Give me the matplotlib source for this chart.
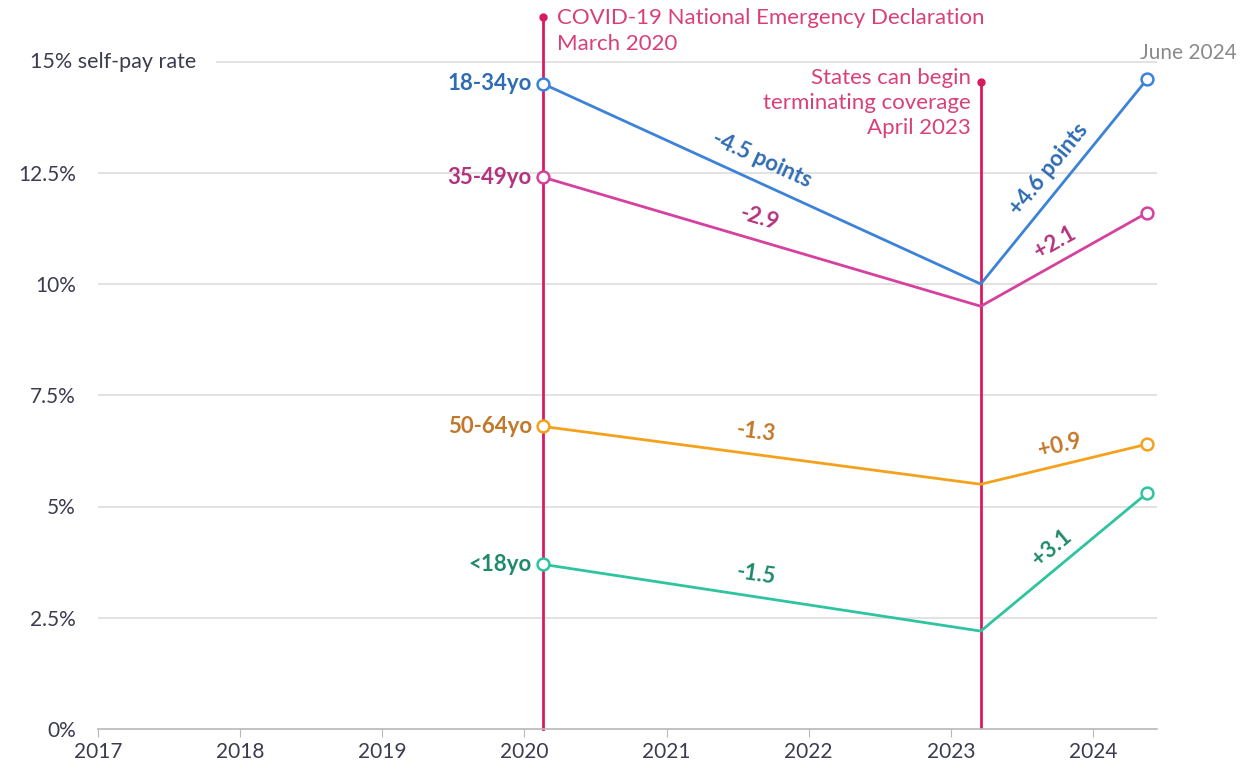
import numpy as np
import matplotlib.pyplot as plt

plt.rcParams['font.family'] = ['Lato', 'DejaVu Sans']

# -------------------------------
# Data (self-pay rate, %)
# -------------------------------
x_dates = [2020.13, 2023.21, 2024.38]   # Mar 2020, Apr 2023, Jun 2024
groups = ['18-34yo', '35-49yo', '50-64yo', '<18yo']
rate_18_34 = [14.5, 10.0, 14.6]
rate_35_49 = [12.4, 9.5, 11.6]
rate_50_64 = [6.8, 5.5, 6.4]
rate_u18 = [3.7, 2.2, 5.3]
drop_labels = ['-4.5 points', '-2.9', '-1.3', '-1.5']
rise_labels = ['+4.6 points', '+2.1', '+0.9', '+3.1']

years = list(range(2017, 2025))
y_ticks = [0, 2.5, 5, 7.5, 10, 12.5]
y_tick_labels = ['0%', '2.5%', '5%', '7.5%', '10%', '12.5%']

line_colors = ['#3b82d8', '#d6409f', '#f4a21c', '#2ec4a0']
text_colors = ['#2f6cb3', '#b3337e', '#c2782a', '#1e8a6c']
event_color = '#d81b60'
event_text = '#d8407a'
tick_color = '#3c3c50'
grid_color = '#dddddd'

series = [rate_18_34, rate_35_49, rate_50_64, rate_u18]

# -------------------------------
# Figure
# -------------------------------
fig = plt.figure(figsize=(12.48, 7.7), dpi=100)
ax = fig.add_axes([98 / 1248, 41 / 770, 1059 / 1248, 712 / 770])
ax.set_xlim(2017, 2024.45)
ax.set_ylim(0, 16)

for s in ['top', 'right', 'left']:
    ax.spines[s].set_visible(False)
ax.spines['bottom'].set_color('#b8b8b8')
ax.spines['bottom'].set_linewidth(1.2)

ax.set_xticks(years)
ax.set_xticklabels([str(y) for y in years], fontsize=15, color=tick_color)
ax.tick_params(axis='x', length=6, color='#b8b8b8', pad=3)
ax.set_yticks(y_ticks)
ax.set_yticklabels(y_tick_labels, fontsize=15, color=tick_color)
ax.tick_params(axis='y', length=0, pad=16)

# gridlines
for y in y_ticks[1:]:
    ax.axhline(y, color=grid_color, lw=1.2, zorder=0)
ax.axhline(15, xmin=119 / 1059, color=grid_color, lw=1.2, zorder=0)
ax.text(-68 / 1059, 15, '15% self-pay rate', transform=ax.get_yaxis_transform(),
        fontsize=15.5, color=tick_color, ha='left', va='center')

# event lines
ax.plot([x_dates[0], x_dates[0]], [0, 16], color=event_color, lw=2, zorder=2, clip_on=False)
ax.plot([x_dates[0]], [16], 'o', color=event_color, ms=5, zorder=3, clip_on=False)
ax.text(x_dates[0] + 0.1, 16.2, 'COVID-19 National Emergency Declaration\nMarch 2020',
        fontsize=16, color=event_text, ha='left', va='top', linespacing=1.4)

top2 = max(s[0] for s in series) + 0.05
ax.plot([x_dates[1], x_dates[1]], [0, top2], color=event_color, lw=2, zorder=2)
ax.plot([x_dates[1]], [top2], 'o', color=event_color, ms=5, zorder=3)
ax.text(x_dates[1] - 0.07, top2 + 0.3, 'States can begin\nterminating coverage\nApril 2023',
        fontsize=16, color=event_text, ha='right', va='top', linespacing=1.3)

ax.text(1.075, max(s[2] for s in series) + 0.6, 'June 2024', transform=ax.get_yaxis_transform(),
        fontsize=15, color='#8a8a8a', ha='right', va='center')

# series lines
for vals, lc, tc, name in zip(series, line_colors, text_colors, groups):
    ax.plot(x_dates, vals, color=lc, lw=2, zorder=4)
    ax.plot([x_dates[0], x_dates[2]], [vals[0], vals[2]], 'o', ms=8.5, mfc='white',
            mec=lc, mew=1.8, zorder=5, clip_on=False)
    ax.annotate(name, (x_dates[0], vals[0]), xytext=(-8, 0), textcoords='offset points',
                ha='right', va='center', fontsize=16, fontweight='bold', color=tc)


def seg_label(x0, y0, x1, y1, text, color, offset_px, frac=0.5):
    p0 = ax.transData.transform((x0, y0))
    p1 = ax.transData.transform((x1, y1))
    d = p1 - p0
    ang = np.degrees(np.arctan2(d[1], d[0]))
    n = np.array([-d[1], d[0]]) / np.hypot(*d)
    pos = p0 + d * frac + n * offset_px
    xm, ym = ax.transData.inverted().transform(pos)
    ax.text(xm, ym, text, rotation=ang, rotation_mode='anchor', ha='center', va='center',
            fontsize=16, fontweight='bold', color=color, zorder=6)


for vals, tc, dl, rl in zip(series, text_colors, drop_labels, rise_labels):
    seg_label(x_dates[0], vals[0], x_dates[1], vals[1], dl, tc, 22, 0.48)
    seg_label(x_dates[1], vals[1], x_dates[2], vals[2], rl, tc, 19, 0.5)

fig.savefig('out.png', dpi=100)
